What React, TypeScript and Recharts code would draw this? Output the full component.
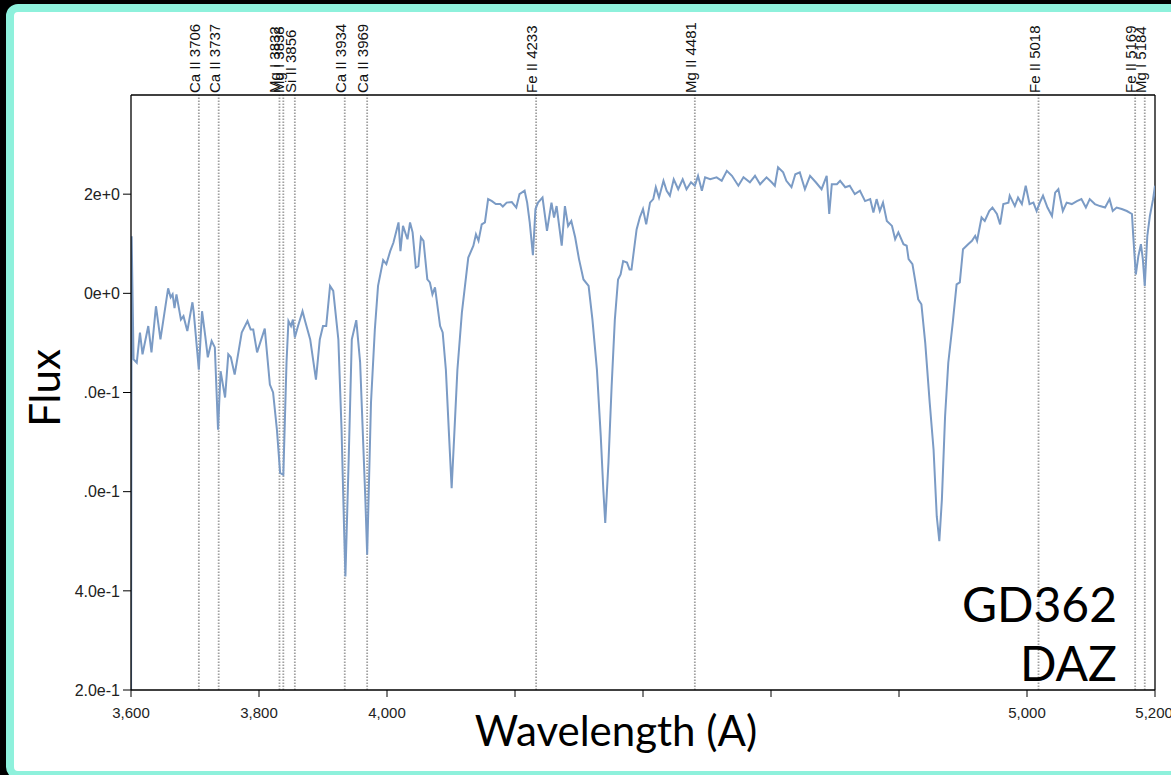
import React from "react";
import { LineChart, Line, XAxis, YAxis, ReferenceLine } from "recharts";

// wavelength (A) / normalised flux
const wavelengths = [
  3600, 3601, 3604, 3609, 3614, 3618, 3627, 3632, 3639, 3646, 3658, 3662, 3665, 3668, 3671, 3678, 3682, 3688,
  3696, 3698, 3706, 3711, 3716, 3720, 3726, 3731, 3736, 3740, 3747, 3752, 3756, 3762, 3773, 3782, 3787, 3791,
  3797, 3809, 3817, 3822, 3828, 3833, 3838, 3843, 3846, 3850, 3853, 3856, 3861, 3868, 3872, 3880, 3889, 3895,
  3900, 3905, 3911, 3916, 3924, 3929, 3933, 3935, 3940, 3945, 3952, 3958, 3966, 3969, 3975, 3981, 3986, 3994,
  3999, 4005, 4010, 4018, 4021, 4025, 4032, 4036, 4040, 4045, 4049, 4053, 4057, 4063, 4067, 4071, 4075, 4083,
  4087, 4092, 4097, 4101, 4105, 4110, 4117, 4127, 4135, 4139, 4143, 4148, 4153, 4158, 4164, 4170, 4177, 4181,
  4187, 4195, 4202, 4207, 4215, 4219, 4223, 4228, 4232, 4236, 4243, 4250, 4257, 4261, 4265, 4273, 4278, 4283,
  4288, 4294, 4300, 4307, 4315, 4321, 4328, 4334, 4338, 4341, 4346, 4351, 4356, 4361, 4365, 4369, 4375, 4379,
  4382, 4390, 4395, 4400, 4405, 4411, 4416, 4420, 4425, 4432, 4437, 4442, 4448, 4455, 4462, 4468, 4475, 4481,
  4486, 4492, 4497, 4505, 4515, 4523, 4531, 4539, 4549, 4557, 4567, 4575, 4583, 4593, 4601, 4606, 4611, 4619,
  4624, 4632, 4638, 4645, 4653, 4661, 4670, 4679, 4687, 4691, 4695, 4703, 4708, 4716, 4723, 4731, 4739, 4747,
  4755, 4760, 4765, 4770, 4775, 4781, 4789, 4794, 4799, 4807, 4812, 4815, 4821, 4825, 4830, 4835, 4841, 4848,
  4854, 4859, 4863, 4867, 4872, 4877, 4884, 4890, 4895, 4900, 4908, 4914, 4919, 4922, 4929, 4934, 4941, 4946,
  4953, 4958, 4963, 4971, 4973, 4981, 4986, 4992, 4998, 5004, 5010, 5015, 5020, 5025, 5032, 5039, 5044, 5049,
  5056, 5062, 5070, 5078, 5085, 5092, 5098, 5106, 5114, 5122, 5129, 5134, 5140, 5148, 5156, 5164, 5166, 5170,
  5174, 5178, 5181, 5184, 5188, 5192, 5197, 5200, 5203,
];

const flux = [
  0.1, 1.115, 0.867, 0.86, 0.921, 0.877, 0.934, 0.881, 0.974, 0.907, 1.01, 0.992, 0.998, 0.97, 0.998, 0.947, 0.954, 0.924,
  0.982, 0.962, 0.846, 0.964, 0.914, 0.871, 0.904, 0.891, 0.725, 0.843, 0.79, 0.877, 0.871, 0.836, 0.921, 0.944, 0.927, 0.927,
  0.881, 0.929, 0.816, 0.8, 0.725, 0.638, 0.634, 0.861, 0.944, 0.934, 0.947, 0.911, 0.934, 0.964, 0.944, 0.907, 0.826, 0.907,
  0.934, 0.934, 1.015, 1.005, 0.907, 0.725, 0.523, 0.429, 0.659, 0.907, 0.946, 0.861, 0.591, 0.473, 0.78, 0.927, 1.015, 1.067,
  1.059, 1.085, 1.102, 1.143, 1.085, 1.136, 1.109, 1.143, 1.123, 1.052, 1.055, 1.113, 1.106, 1.028, 1.022, 0.998, 1.012, 0.934,
  0.921, 0.846, 0.712, 0.607, 0.712, 0.846, 0.961, 1.072, 1.096, 1.119, 1.106, 1.139, 1.143, 1.19, 1.186, 1.18, 1.18, 1.175,
  1.183, 1.184, 1.173, 1.2, 1.207, 1.183, 1.143, 1.077, 1.17, 1.183, 1.193, 1.126, 1.183, 1.153, 1.176, 1.096, 1.176, 1.136,
  1.146, 1.113, 1.069, 1.028, 1.015, 0.947, 0.846, 0.712, 0.604, 0.537, 0.658, 0.813, 0.947, 1.028, 1.038, 1.065, 1.062, 1.048,
  1.048, 1.129, 1.153, 1.17, 1.139, 1.183, 1.19, 1.214, 1.193, 1.227, 1.207, 1.197, 1.23, 1.21, 1.23, 1.21, 1.224, 1.217,
  1.237, 1.207, 1.234, 1.23, 1.234, 1.227, 1.247, 1.237, 1.217, 1.234, 1.224, 1.237, 1.22, 1.234, 1.224, 1.217, 1.254, 1.244,
  1.227, 1.214, 1.24, 1.244, 1.21, 1.237, 1.224, 1.21, 1.237, 1.16, 1.22, 1.22, 1.227, 1.214, 1.217, 1.2, 1.207, 1.186,
  1.19, 1.163, 1.19, 1.166, 1.183, 1.146, 1.136, 1.109, 1.123, 1.099, 1.096, 1.069, 1.059, 1.028, 0.988, 0.978, 0.9, 0.779,
  0.685, 0.55, 0.5, 0.584, 0.752, 0.86, 0.941, 1.018, 1.022, 1.089, 1.099, 1.106, 1.116, 1.106, 1.153, 1.146, 1.166, 1.173,
  1.16, 1.139, 1.18, 1.183, 1.197, 1.176, 1.193, 1.18, 1.217, 1.18, 1.183, 1.166, 1.183, 1.197, 1.173, 1.156, 1.203, 1.21,
  1.166, 1.183, 1.18, 1.186, 1.19, 1.173, 1.19, 1.18, 1.176, 1.173, 1.19, 1.166, 1.173, 1.17, 1.166, 1.16, 1.116, 1.038,
  1.075, 1.099, 1.069, 1.015, 1.116, 1.156, 1.19, 1.217, 1.15,
];

const lineNames = [
  "Ca II 3706", "Ca II 3737", "Mg I 3832", "Mg I 3838", "Si II 3856", "Ca II 3934",
  "Ca II 3969", "Fe II 4233", "Mg II 4481", "Fe II 5018", "Fe II 5169", "Mg I 5184",
];
const lineWavelengths = [3706, 3737, 3832, 3838, 3856, 3934, 3969, 4233, 4481, 5018, 5169, 5184];

const xTicks = [3600, 3800, 4000, 4200, 4400, 4600, 4800, 5000, 5200];
const xLabelled = [3600, 3800, 4000, 5000, 5200];
const yTicks = [0.2, 0.4, 0.6, 0.8, 1.0, 1.2];
const yTickLabels = ["2.0e-1", "4.0e-1", ".0e-1", ".0e-1", "0e+0", "2e+0"];

const data = wavelengths.map((wl, i) => ({ wl, flux: flux[i] }));

const tickFont = "'Liberation Sans', Arial, sans-serif";
const titleFont = "Lato, 'Open Sans', sans-serif";

function LineTag(props: any) {
  const { viewBox, value } = props;
  const x = viewBox.x + 1;
  const y = viewBox.y - 2;
  return (
    <text
      x={x}
      y={y}
      transform={`rotate(-90 ${x} ${y})`}
      textAnchor="start"
      fontSize={15}
      fill="#111"
      fontFamily={tickFont}
    >
      {value}
    </text>
  );
}

export default function App() {
  return (
    <div
      style={{
        position: "fixed",
        left: 0,
        top: 0,
        width: 1171,
        height: 775,
        background: "#000",
        overflow: "hidden",
      }}
    >
      <div
        style={{
          position: "absolute",
          left: 6,
          top: 4,
          width: 1220,
          height: 775,
          boxSizing: "border-box",
          border: "8px solid #8EF1DC",
          borderRadius: 12,
          background: "#fff",
        }}
      />
      <div style={{ position: "absolute", left: 0, top: 0 }}>
        <LineChart width={1171} height={775} data={data} margin={{ top: 65, right: 16, bottom: 0, left: 0 }}>
          <XAxis
            dataKey="wl"
            type="number"
            domain={[3600, 5200]}
            ticks={xTicks}
            allowDataOverflow
            height={85}
            tickSize={7}
            tickMargin={10}
            axisLine={{ stroke: "#000", strokeWidth: 1.3 }}
            tickLine={{ stroke: "#000" }}
            tick={{ fontSize: 15, fill: "#222", fontFamily: tickFont }}
            tickFormatter={(v: number) => (xLabelled.includes(v) ? v.toLocaleString("en-US") : "")}
          />
          <XAxis
            xAxisId="top"
            orientation="top"
            type="number"
            domain={[3600, 5200]}
            ticks={[3600, 5200]}
            height={30}
            tickSize={8}
            tick={false}
            axisLine={{ stroke: "#000", strokeWidth: 1.3 }}
            tickLine={{ stroke: "#000" }}
          />
          <YAxis
            type="number"
            domain={[0.2, 1.4]}
            ticks={yTicks}
            allowDataOverflow
            width={131}
            tickSize={8}
            tickMargin={3}
            axisLine={{ stroke: "#000", strokeWidth: 1.3 }}
            tickLine={{ stroke: "#000" }}
            tick={{ fontSize: 16, fill: "#222", fontFamily: tickFont }}
            tickFormatter={(v: number) => yTickLabels[yTicks.findIndex((t) => Math.abs(t - v) < 1e-6)] ?? ""}
          />
          {lineWavelengths.map((wl, i) => (
            <ReferenceLine
              key={lineNames[i]}
              x={wl}
              stroke="#a0a0a0"
              strokeWidth={1.8}
              strokeDasharray="1.5 1.5"
              label={{ value: lineNames[i], content: LineTag }}
            />
          ))}
          <ReferenceLine x={5200} stroke="#000" strokeWidth={1.3} />
          <Line
            type="linear"
            dataKey="flux"
            stroke="#7b9bc5"
            strokeWidth={2}
            dot={false}
            isAnimationActive={false}
          />
        </LineChart>
      </div>
      <svg
        width={1171}
        height={775}
        style={{ position: "absolute", left: 0, top: 0, pointerEvents: "none" }}
      >
        <text x={616} y={746} textAnchor="middle" fontSize={42} fill="#000" fontFamily={titleFont}>
          Wavelength (A)
        </text>
        <text
          x={60}
          y={388}
          transform="rotate(-90 60 388)"
          textAnchor="middle"
          fontSize={42}
          fill="#000"
          fontFamily={titleFont}
        >
          Flux
        </text>
        <text x={1117} y={622} textAnchor="end" fontSize={48} fill="#000" fontFamily={titleFont}>
          GD362
        </text>
        <text x={1117} y={681} textAnchor="end" fontSize={48} fill="#000" fontFamily={titleFont}>
          DAZ
        </text>
      </svg>
    </div>
  );
}
